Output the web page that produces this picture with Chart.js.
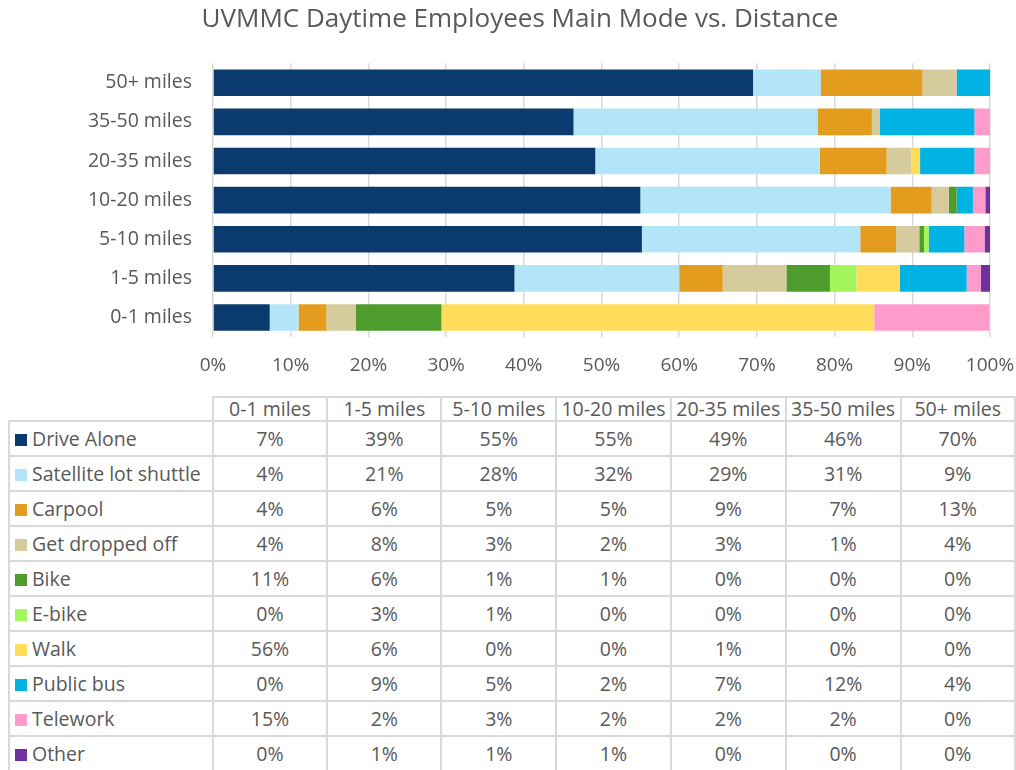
<!DOCTYPE html>
<html>
<head>
<meta charset="utf-8">
<script src="https://cdn.jsdelivr.net/npm/chart.js@4.4.1/dist/chart.umd.min.js"></script>
<style>
  body { margin: 0; background: #fff; font-family: "Open Sans", sans-serif; overflow: hidden; }
  #wrap { position: absolute; left: 0; top: 0; width: 1016px; height: 391px; }
  #modeTable {
    position: absolute; left: 8px; top: 396px;
    border-collapse: collapse; table-layout: fixed;
    font-family: "Open Sans", sans-serif; font-size: 19.5px; line-height: 22px; color: #595959;
  }
  #modeTable td, #modeTable th {
    border: 2px solid #d9d9d9; height: 33px; padding: 0;
    text-align: center; font-weight: normal; white-space: nowrap;
  }
  #modeTable thead th { height: 22px; }
  #modeTable th.corner { border-top: none; border-left: none; }
  #modeTable td.name { text-align: left; padding-left: 5px; }
  .swatch { display: inline-block; width: 12px; height: 12px; margin-right: 5px; vertical-align: 0px; }
</style>
</head>
<body>
<div id="wrap"><canvas id="barChart"></canvas></div>
<table id="modeTable"></table>
<script>
// distance bands, shortest first (table order); chart shows them bottom-up
const categories = ['0-1 miles', '1-5 miles', '5-10 miles', '10-20 miles', '20-35 miles', '35-50 miles', '50+ miles'];

// share of employees (%) per band
const driveAlone = [7.3, 38.8, 55.2, 55.0, 49.2, 46.4, 69.5];
const satelliteShuttle = [3.7, 21.2, 28.1, 32.2, 28.9, 31.4, 8.7];
const carpool = [3.6, 5.6, 4.6, 5.3, 8.6, 7.0, 13.1];
const droppedOff = [3.8, 8.2, 3.0, 2.2, 3.2, 1.0, 4.4];
const bike = [11.0, 5.6, 0.6, 1.0, 0, 0, 0];
const eBike = [0, 3.4, 0.6, 0, 0, 0, 0];
const walk = [55.7, 5.6, 0, 0, 1.1, 0, 0];
const publicBus = [0, 8.6, 4.6, 2.1, 7.0, 12.2, 4.3];
const telework = [14.8, 1.8, 2.6, 1.6, 2.0, 2.0, 0];
const other = [0, 1.2, 0.7, 0.6, 0, 0, 0];

const xTicks = [0, 10, 20, 30, 40, 50, 60, 70, 80, 90, 100];

const modeNames = ['Drive Alone', 'Satellite lot shuttle', 'Carpool', 'Get dropped off', 'Bike', 'E-bike', 'Walk', 'Public bus', 'Telework', 'Other'];
const modeValues = [driveAlone, satelliteShuttle, carpool, droppedOff, bike, eBike, walk, publicBus, telework, other];
const modeColors = ['#0b3b6e', '#b3e5f9', '#e49c1f', '#d6cb9d', '#4e9c2b', '#a2f55b', '#ffdd5a', '#00b3e2', '#ff9bcb', '#7030a0'];

const textGray = '#595959';

const datasets = modeNames.map((name, i) => ({
    label: name,
    data: modeValues[i],
    backgroundColor: modeColors[i],
    borderWidth: 0,
    barPercentage: 0.68,
    categoryPercentage: 1.0
}));

const ctx = document.getElementById('barChart').getContext('2d');
new Chart(ctx, {
    type: 'bar',
    data: { labels: categories, datasets: datasets },
    options: {
        indexAxis: 'y',
        responsive: true,
        maintainAspectRatio: false,
        animation: false,
        // left padding only moves the title centre; the y axis width below keeps the plot at x=213
        layout: { padding: { left: 50, right: 26, top: 0, bottom: 0 } },
        plugins: {
            legend: { display: false },
            tooltip: { enabled: false },
            title: {
                display: true,
                text: 'UVMMC Daytime Employees Main Mode vs. Distance',
                color: textGray,
                font: { family: 'Open Sans', size: 26, weight: 'normal' },
                padding: { top: 4, bottom: 28 }
            }
        },
        scales: {
            x: {
                stacked: true,
                min: 0,
                max: 100,
                afterBuildTicks: s => { s.ticks = xTicks.map(v => ({ value: v })); },
                afterFit: s => { s.height = 54; s.paddingLeft = 0; s.paddingRight = 0; },
                ticks: {
                    color: textGray,
                    padding: 17,
                    font: { family: 'Open Sans', size: 19 },
                    callback: v => v + '%'
                },
                grid: { color: '#d9d9d9', lineWidth: 1.5, drawTicks: false },
                border: { display: false }
            },
            y: {
                stacked: true,
                reverse: true,
                afterFit: s => { s.width = 163; },
                ticks: {
                    color: textGray,
                    padding: 13,
                    font: { family: 'Open Sans', size: 19.5 }
                },
                grid: { display: false },
                border: { display: false }
            }
        }
    }
});

// data table below the chart, built from the same arrays
const table = document.getElementById('modeTable');
let html = '<colgroup><col style="width:204px">' + categories.map(() => '<col style="width:115px">').join('') + '</colgroup>';
html += '<thead><tr><th class="corner"></th>' + categories.map(c => '<th>' + c + '</th>').join('') + '</tr></thead><tbody>';
modeNames.forEach((name, i) => {
    html += '<tr><td class="name"><span class="swatch" style="background:' + modeColors[i] + '"></span>' + name + '</td>';
    html += modeValues[i].map(v => '<td>' + Math.round(v) + '%</td>').join('') + '</tr>';
});
html += '</tbody>';
table.innerHTML = html;
</script>
</body>
</html>
